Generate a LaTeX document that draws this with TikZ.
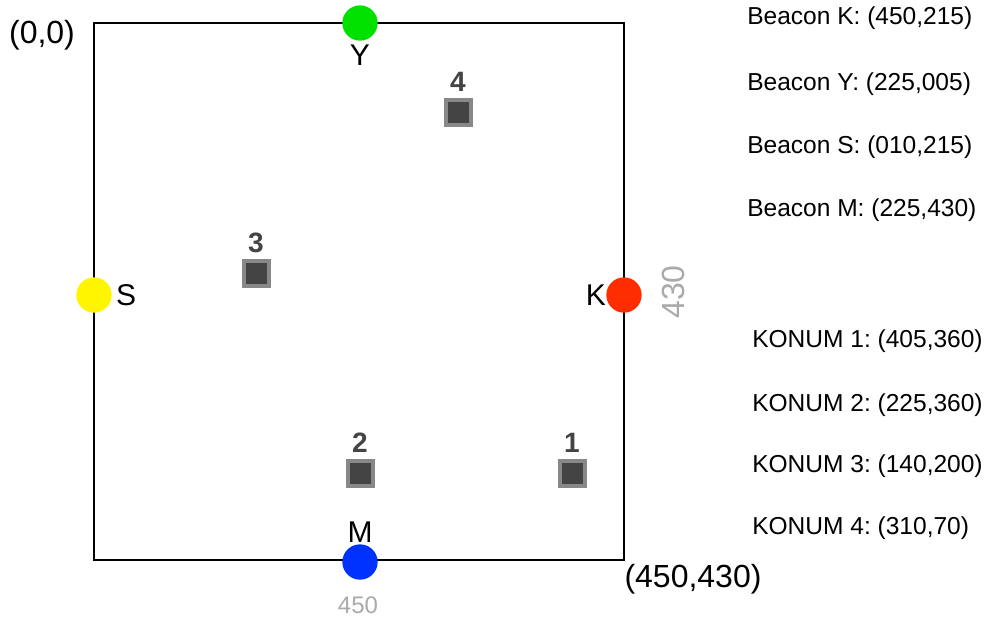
\documentclass[tikz,border=0pt]{standalone}
\usepackage{fontspec}
\setmainfont{Liberation Sans}
\usetikzlibrary{positioning}
\frenchspacing

\begin{document}
\begin{tikzpicture}[x=0.75pt,y=-0.75pt,
  beacon/.style={circle, inner sep=0pt, minimum size=26.5pt},
  spot/.style={draw=spotedge, fill=spotfill, line width=3pt, inner sep=0pt, minimum size=18.75pt},
  tag/.style={inner sep=0pt, text=black, font=\fontsize{22.5}{24}\selectfont},
  num/.style={inner sep=0pt, text=spotfill, font=\fontsize{21}{24}\selectfont\bfseries},
  dim/.style={inner sep=0pt, text=dimgray},
  info/.style={anchor=west, inner sep=0pt, font=\fontsize{18.4}{20}\selectfont}]
  \definecolor{spotedge}{RGB}{136,136,136}
  \definecolor{spotfill}{RGB}{68,68,68}
  \definecolor{dimgray}{RGB}{170,170,170}
  \definecolor{bgreen}{RGB}{0,225,0}
  \definecolor{byellow}{RGB}{255,245,0}
  \definecolor{bred}{RGB}{255,45,0}
  \definecolor{bblue}{RGB}{0,50,255}

  \useasboundingbox (0,0) rectangle (989,621);

  % area
  \draw[line width=0.9pt] (94,23) rectangle (624,560);
  \node[tag, font=\fontsize{24}{26}\selectfont] (origin) at (42,35) {(0,0)};
  \node[tag, font=\fontsize{24}{26}\selectfont] (corner) at (693,579) {(450,430)};
  \node[dim, font=\fontsize{18}{20}\selectfont] (width) at (358,605) {450};
  \node[dim, rotate=90, font=\fontsize{24}{26}\selectfont] (height) at (673,292) {430};

  % beacons
  \node[beacon, fill=bgreen] (Y) at (360,23) {};
  \node[beacon, fill=byellow] (S) at (94,295) {};
  \node[beacon, fill=bred] (K) at (624,295) {};
  \node[beacon, fill=bblue] (M) at (360,562) {};
  \node[tag, below=3pt of Y] (Ylbl) {Y};
  \node[tag, right=3pt of S] (Slbl) {S};
  \node[tag, left=0pt of K] (Klbl) {K};
  \node[tag, above=1pt of M] (Mlbl) {M};

  % positions
  \foreach \n/\px/\py in {1/572/473, 2/360/473, 3/256/273, 4/458/112} {
    \node[spot] (p\n) at (\px,\py) {};
    \node[num, above=4pt of p\n] (p\n lbl) {\n};
  }

  % coordinates list
  \foreach \i/\txt/\ty in {
    1/{Beacon K: (450,215)}/18,
    2/{Beacon Y: (225,005)}/84,
    3/{Beacon S: (010,215)}/147,
    4/{Beacon M: (225,430)}/210
  } {
    \node[info] (b\i) at (747,\ty) {\txt};
  }
  \foreach \i/\txt/\ty in {
    1/{KONUM 1: (405,360)}/341,
    2/{KONUM 2: (225,360)}/405,
    3/{KONUM 3: (140,200)}/466,
    4/{KONUM 4: (310,70)}/528
  } {
    \node[info] (k\i) at (752,\ty) {\txt};
  }
\end{tikzpicture}
\end{document}
